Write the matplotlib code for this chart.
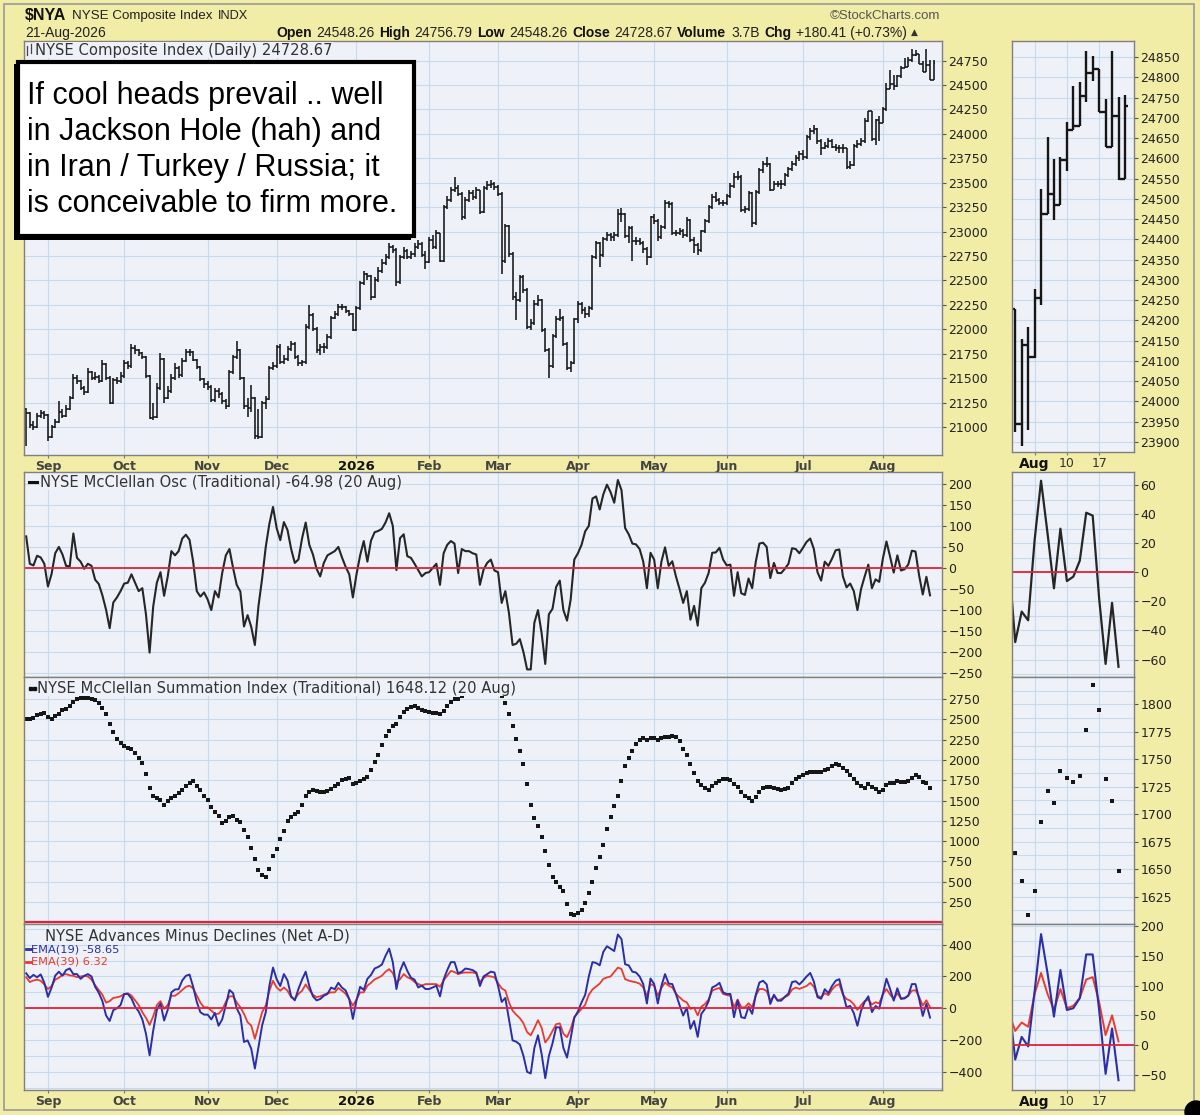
import numpy as np
import pandas as pd
import matplotlib
matplotlib.use('Agg')
import matplotlib.pyplot as plt
from matplotlib.patches import Rectangle, Ellipse
from matplotlib.lines import Line2D
from matplotlib.ticker import MultipleLocator

# ---------------------------------------------------------------
# Data ($NYA daily, 22-Aug-2025 .. 21-Aug-2026)
# NYA reports the open as the prior close (header: Open = prev close)
# ---------------------------------------------------------------
first_open = 21180

close = [
    21140, 21020, 21000, 21110, 21140, 21120,                                   # Aug 25
    20900, 21000, 21050, 21150, 21110, 21180, 21300, 21500, 21470, 21400, 21360,
    21560, 21500, 21510, 21470, 21640, 21500, 21250, 21480, 21470, 21520,        # Sep
    21650, 21620, 21810, 21790, 21760, 21720, 21520, 21090, 21100, 21400, 21700,
    21300, 21370, 21500, 21600, 21530, 21680, 21770, 21770, 21690, 21610, 21490, 21440,  # Oct
    21410, 21280, 21370, 21340, 21270, 21210, 21560, 21720, 21790, 21500, 21210,
    21190, 21300, 20910, 20900, 21250, 21290, 21600, 21620,                      # Nov
    21820, 21660, 21700, 21800, 21850, 21720, 21650, 21660, 22020, 22150, 22000,
    21790, 21820, 21820, 21920, 22120, 22160, 22230, 22230, 22190, 22160, 21990,  # Dec
    22220, 22470, 22570, 22540, 22330, 22500, 22600, 22680, 22740, 22840, 22810,
    22480, 22740, 22800, 22740, 22770, 22840, 22870, 22760, 22690,               # Jan
    22910, 22840, 22980, 22700, 23250, 23320, 23420, 23450, 23380, 23150, 23320,
    23390, 23350, 23420, 23200, 23450, 23480, 23490, 23460,                      # Feb
    23380, 22700, 23060, 22770, 22330, 22300, 22530, 22400, 22020, 22060, 22260,
    22300, 21990, 21790, 21620, 21930, 22100, 22120, 21850, 21600, 21650, 22100,  # Mar
    22260, 22200, 22160, 22220, 22740, 22880, 22760, 22920, 22960, 22940, 22960,
    23180, 23180, 22950, 23040, 22900, 22900, 22880, 22820, 22740, 23150,        # Apr
    23110, 22940, 23050, 23290, 23280, 22990, 22990, 23010, 22960, 23120, 22910,
    22860, 22810, 23010, 23110, 23250, 23350, 23320, 23290, 23290,               # May
    23360, 23470, 23560, 23560, 23220, 23230, 23390, 23090, 23400, 23630, 23690,
    23690, 23430, 23490, 23490, 23490, 23580, 23640, 23690, 23750, 23790,        # Jun
    23760, 23970, 24030, 24050, 23930, 23860, 23880, 23930, 23870, 23860, 23850,
    23850, 23660, 23680, 23880, 23900, 23930, 24130, 24229, 23945, 24140, 24110,  # Jul
    24255, 24463, 24513, 24485, 24595, 24669, 24680, 24755, 24810, 24820, 24715,
    24628, 24706, 24548.26, 24728.67,                                            # Aug
]

high = [
    21190, 21150, 21060, 21140, 21170, 21160,
    21130, 21020, 21080, 21270, 21180, 21220, 21320, 21540, 21530, 21480, 21420,
    21600, 21570, 21560, 21530, 21690, 21650, 21520, 21500, 21510, 21560,
    21690, 21680, 21850, 21840, 21800, 21770, 21730, 21530, 21250, 21450, 21760,
    21710, 21420, 21540, 21650, 21620, 21710, 21800, 21800, 21780, 21700, 21620, 21500,
    21470, 21430, 21400, 21400, 21360, 21290, 21580, 21740, 21880, 21800, 21510,
    21300, 21430, 21310, 21180, 21270, 21320, 21620, 21660,
    21840, 21850, 21740, 21830, 21880, 21870, 21740, 21690, 22050, 22250, 22170,
    22020, 21850, 21860, 21950, 22140, 22190, 22260, 22260, 22240, 22200, 22170,
    22240, 22490, 22600, 22580, 22560, 22530, 22640, 22720, 22770, 22880, 22860,
    22830, 22760, 22840, 22820, 22800, 22880, 22910, 22890, 22800,
    22940, 22960, 23020, 22990, 23270, 23360, 23460, 23560, 23480, 23400, 23350,
    23420, 23420, 23460, 23430, 23470, 23520, 23530, 23510,
    23480, 23400, 23080, 23070, 22790, 22380, 22560, 22560, 22420, 22100, 22300,
    22350, 22310, 22010, 21810, 21950, 22140, 22210, 22140, 21870, 21680, 22120,
    22290, 22280, 22230, 22240, 22760, 22900, 22890, 22940, 23000, 22980, 23000,
    23230, 23240, 23190, 23060, 23060, 22940, 22930, 22900, 22840, 23160,
    23180, 23130, 23070, 23320, 23310, 23300, 23020, 23040, 23030, 23150, 23130,
    22940, 22880, 23020, 23130, 23270, 23380, 23400, 23340, 23320,
    23380, 23500, 23600, 23620, 23580, 23260, 23410, 23400, 23420, 23650, 23720,
    23760, 23700, 23520, 23520, 23530, 23600, 23660, 23720, 23780, 23820,
    23830, 23990, 24060, 24090, 24060, 23950, 23920, 23960, 23950, 23900, 23890,
    23900, 23860, 23720, 23900, 23940, 23960, 24160, 24229, 24229, 24155, 24184,
    24278, 24525, 24653, 24599, 24603, 24690, 24780, 24788, 24866, 24854, 24821,
    24747, 24866, 24751, 24756.79,
]

low = [
    20810, 20990, 20970, 20990, 21090, 21080,
    20860, 20890, 20990, 21040, 21090, 21100, 21170, 21290, 21440, 21380, 21330,
    21350, 21480, 21480, 21450, 21460, 21480, 21240, 21240, 21440, 21450,
    21500, 21590, 21600, 21750, 21730, 21700, 21500, 21080, 21070, 21090, 21380,
    21250, 21290, 21350, 21480, 21500, 21510, 21660, 21730, 21670, 21590, 21470, 21400,
    21380, 21260, 21260, 21300, 21240, 21180, 21200, 21540, 21700, 21480, 21180,
    21100, 21150, 20880, 20880, 20890, 21180, 21280, 21580,
    21600, 21640, 21640, 21680, 21780, 21700, 21620, 21620, 21640, 22000, 21980,
    21760, 21740, 21760, 21800, 21900, 22100, 22140, 22200, 22170, 22140, 21980,
    21980, 22200, 22450, 22500, 22300, 22320, 22480, 22580, 22660, 22720, 22780,
    22440, 22460, 22720, 22720, 22720, 22740, 22820, 22740, 22620,
    22680, 22820, 22820, 22690, 22690, 23230, 23300, 23400, 23360, 23120, 23130,
    23300, 23320, 23330, 23180, 23190, 23420, 23450, 23430,
    23360, 22570, 22680, 22740, 22300, 22090, 22280, 22370, 22000, 21990, 22040,
    22240, 21970, 21770, 21500, 21600, 21910, 22080, 21830, 21580, 21560, 21640,
    22060, 22160, 22120, 22130, 22200, 22720, 22640, 22740, 22900, 22900, 22900,
    22940, 23100, 22930, 22880, 22700, 22860, 22860, 22780, 22660, 22730,
    23080, 22900, 22920, 23030, 23240, 22960, 22950, 22960, 22930, 22940, 22890,
    22780, 22760, 22790, 22990, 23090, 23230, 23300, 23270, 23260,
    23270, 23340, 23450, 23530, 23200, 23190, 23210, 23050, 23070, 23380, 23600,
    23660, 23410, 23420, 23460, 23440, 23470, 23560, 23620, 23670, 23720,
    23730, 23740, 23940, 24000, 23900, 23780, 23840, 23860, 23850, 23820, 23800,
    23800, 23640, 23640, 23670, 23860, 23880, 23910, 24120, 23925, 23890, 23929,
    24106, 24237, 24463, 24447, 24484, 24570, 24669, 24680, 24739, 24792, 24714,
    24628, 24628, 24546, 24548.26,
]

# indicators end on 20 Aug (one bar shorter than price)
mcclellan_osc = [
    75, 10, 6, 29, 25, 10,
    -44, -14, 35, 50, 32, 5, 4, 82, 24, 15, -2, 10, 5, -28, -38, -65, -99, -143, -82, -70, -55,
    -37, -35, -15, -35, -55, -48, -110, -201, -91, -35, -10, -66, -20, 40, 30, 40, 70, 79, 67,
    15, -55, -68, -58,
    -75, -100, -55, -70, -12, 30, 45, 0, -40, -56, -139, -112, -140, -183, -90, -25, 50, 105, 145,
    95, 66, 109, 90, 45, 12, 20, 70, 108, 55, 32, -2, -20, 12, 30, 35, 40, 50, 25, 3, -15, -70,
    -15, 30, 64, 15, 65, 85, 88, 93, 108, 130, 100, -5, 71, 80, 28, 24, 10, -5, -20, -12,
    -10, 0, 10, -40, 35, 55, 64, 58, -12, 45, 40, 40, 35, 32, -40, -4, 12, 20, -6,
    -10, -83, -55, -107, -183, -180, -169, -200, -241, -241, -130, -100, -155, -228, -110, -97,
    -45, -30, -100, -125, -75, 20,
    35, 55, 87, 100, 165, 170, 139, 175, 198, 180, 155, 209, 185, 95, 80, 58, 56, 45, 15, -48, 36,
    20, -48, 15, 49, 5, 16, -20, -50, -83, -55, -123, -90, -137, -48, -35, -12, 36, 37, 48, 20,
    6, 8, -66, -10, -60, -64, -25, -48, 15, 58, 60, 50, -24, 12, -12, -12, -2, 10, 47, 45, 35,
    48, 62, 70, 45, -10, -30, 15, 5, 22, 42, 44, -20, -46, -37, -55, -100, -50, -20, 8, -48, -27, -33,
    22, 63, 27, -11, 30, -6, -3, 8, 41, 39, -18, -63, -21, -64.98,
]

summation = [
    2500, 2510, 2520, 2550, 2570, 2583,
    2525, 2510, 2545, 2570, 2616, 2625, 2660, 2712, 2745, 2760, 2768, 2765, 2755, 2735, 2700,
    2640, 2570, 2438, 2345, 2262, 2205,
    2175, 2150, 2130, 2087, 2020, 1960, 1830, 1650, 1560, 1530, 1510, 1440, 1490, 1530, 1560,
    1595, 1630, 1680, 1715, 1736, 1680, 1625, 1560,
    1510, 1420, 1360, 1310, 1222, 1250, 1300, 1315, 1261, 1230, 1140, 1050, 920, 780, 640,
    580, 560, 660, 815,
    900, 1020, 1130, 1250, 1300, 1328, 1360, 1450, 1560, 1605, 1624, 1618, 1600, 1600, 1612,
    1640, 1675, 1700, 1755, 1770, 1780, 1700,
    1712, 1740, 1765, 1795, 1880, 1980, 2060, 2180, 2290, 2360, 2417, 2440, 2530, 2590, 2632,
    2650, 2660, 2645, 2620, 2605,
    2591, 2583, 2575, 2560, 2600, 2660, 2710, 2745, 2745, 2790, 2825, 2860, 2890, 2915, 2880,
    2875, 2885, 2900, 2890,
    2840, 2790, 2700, 2570, 2420, 2260, 2110, 1950, 1700, 1440, 1290, 1180, 1050, 880, 700,
    560, 500, 440, 380, 220, 100, 84,
    110, 150, 240, 360, 500, 662, 807, 950, 1150, 1300, 1430, 1560, 1740, 1930, 2025, 2110,
    2200, 2245, 2265, 2240, 2265,
    2273, 2250, 2265, 2280, 2280, 2294, 2285, 2230, 2140, 2060, 1950, 1840, 1740, 1690, 1650,
    1630, 1674, 1710, 1745, 1760,
    1765, 1755, 1700, 1670, 1600, 1558, 1535, 1500, 1540, 1600, 1653, 1670, 1665, 1650, 1641,
    1635, 1637, 1660, 1715, 1765, 1790,
    1815, 1845, 1855, 1850, 1848, 1855, 1870, 1890, 1930, 1955, 1940, 1900, 1860, 1810, 1770,
    1720, 1680, 1660, 1700, 1665, 1639, 1608,
    1630, 1693, 1721, 1710, 1739, 1733, 1729, 1735, 1777, 1818, 1795, 1732, 1712, 1648.12,
]

ema19 = [
    220, 190, 210, 195, 213, 160,
    72, 130, 205, 230, 205, 240, 250, 215, 215, 185, 204, 215, 200, 135, 98, 45, -45, -80, -12, 0, 20,
    90, 90, 62, 10, -20, -70, -160, -296, -140, -10, 30, -77, -10, 100, 118, 120, 175, 204, 212,
    135, 40, -25, -40,
    -40, -70, -30, -110, -70, 20, 115, 95, 0, -46, -212, -202, -254, -379, -242, -108, -25, 142, 256,
    183, 140, 215, 175, 75, 50, 121, 180, 230, 140, 75, 50, 58, 79, 90, 130, 120, 160, 130, 112, 58, -67,
    50, 135, 115, 185, 210, 250, 260, 275, 330, 375, 290, 121, 235, 290, 235, 192, 180, 131, 142, 121,
    121, 131, 142, 75, 180, 240, 290, 290, 220, 230, 250, 246, 240, 225, 140, 200, 215, 230, 225,
    140, 40, 65, -67, -202, -210, -228, -300, -400, -410, -250, -170, -288, -440, -300, -220,
    -120, -120, -250, -310, -190, -60,
    -20, 37, 85, 200, 290, 285, 270, 355, 390, 375, 360, 464, 435, 277, 270, 230, 225, 200, 152, 30, 187,
    152, 30, 140, 215, 155, 152, 90, 20, -46, 5, -129, -80, -180, -35, -4, 45, 131, 142, 160, 100,
    90, 90, -56, 50, -56, -62, 10, -35, 85, 162, 173, 150, 27, 85, 48, 48, 72, 92, 165, 170, 150,
    173, 200, 222, 168, 70, 60, 120, 95, 140, 173, 183, 95, 6, 15, -30, -110, -15, 40, 75, -24, 14, -2,
    90, 186, 121, 48, 126, 59, 62, 79, 152, 152, 59, -48, 28, -58.65,
]

ema39 = [
    195, 165, 175, 180, 173, 150,
    121, 140, 180, 192, 210, 215, 207, 204, 196, 200, 204, 200, 180, 145, 115, 85, 35, 45, 65, 69, 75,
    90, 95, 80, 50, 20, -25, -60, -105, -50, 20, 45, -4, 20, 79, 79, 95, 115, 135, 142, 125, 80, 35, 6,
    6, -15, -35, -35, -10, 40, 75, 75, 37, 6, -35, -88, -108, -192, -108, -25, 17, 110, 173,
    131, 110, 131, 110, 69, 58, 90, 110, 150, 115, 85, 70, 75, 85, 95, 100, 100, 128, 110, 92, 58, 17,
    55, 100, 100, 142, 160, 182, 192, 205, 230, 246, 222, 162, 183, 215, 195, 185, 165, 153, 143, 152,
    152, 152, 152, 135, 175, 205, 235, 228, 215, 222, 225, 225, 225, 220, 165, 190, 204, 200, 195,
    158, 125, 112, 37, -15, -40, -62, -95, -150, -170, -125, -75, -122, -215, -185, -142,
    -100, -95, -160, -182, -130, -55,
    -30, -4, 22, 85, 118, 137, 155, 185, 194, 200, 228, 256, 247, 183, 174, 168, 163, 155, 131, 77, 152,
    142, 79, 128, 162, 142, 131, 92, 69, 48, 37, -4, 4, -45, 10, 27, 55, 110, 121, 128, 90,
    83, 79, 6, 55, 6, 6, 32, 6, 80, 121, 121, 108, 48, 79, 50, 58, 70, 82, 118, 130, 122,
    131, 140, 160, 135, 80, 68, 95, 82, 118, 142, 152, 85, 58, 48, 25, -10, 20, 45, 55, 24, 38, 31,
    86, 121, 86, 59, 94, 62, 66, 79, 110, 114, 72, 17, 50, 6.32,
]

holidays = ['2025-09-01', '2025-11-27', '2025-12-25', '2026-01-01', '2026-01-19',
            '2026-02-16', '2026-04-03', '2026-05-25', '2026-06-19', '2026-07-03']

# ---------------------------------------------------------------
dates = pd.bdate_range('2025-08-22', '2026-08-21')
dates = dates[~dates.isin(pd.to_datetime(holidays))]
n = len(dates)
close = np.array(close, float); high = np.array(high, float); low = np.array(low, float)
osc = np.array(mcclellan_osc, float); summ = np.array(summation, float)
e19 = np.array(ema19, float); e39 = np.array(ema39, float)
assert len(close) == len(high) == len(low) == n, (len(close), len(high), len(low), n)
assert len(osc) == len(summ) == len(e19) == len(e39) == n - 1, (len(osc), len(summ), len(e19), len(e39))
opn = np.r_[first_open, close[:-1]]

x = np.arange(n)
xi = np.arange(n - 1)
mon = dates.month.values
ms = [i for i in range(1, n) if mon[i] != mon[i - 1]]
mlab = ['2026' if dates[i].month == 1 else dates[i].strftime('%b') for i in ms]

BG = '#f1eca6'
PANEL = '#eef1f7'
GRID = '#c6dbee'
ZERO = '#e0213c'
INK = '#161616'
BLUE = '#2b2ea6'
RED = '#ea3a2e'

W, H = 1200, 1115
fig = plt.figure(figsize=(W / 100, H / 100), dpi=100, facecolor=BG)
plt.rcParams['font.family'] = ['DejaVu Sans']


def box(x0, y0, x1, y1):
    return fig.add_axes([x0 / W, 1 - y1 / H, (x1 - x0) / W, (y1 - y0) / H], facecolor=PANEL)


def P(xp, yp):
    return xp / W, 1 - yp / H


def style(ax, ticks, minor=None):
    ax.yaxis.tick_right()
    ax.set_yticks(ticks)
    if minor:
        ax.yaxis.set_minor_locator(MultipleLocator(minor))
        ax.grid(True, which='minor', axis='y', color=GRID, lw=0.8)
    ax.tick_params(axis='y', which='major', length=3, width=0.8, color='#555',
                   labelsize=9, labelcolor='#222', pad=1.5)
    ax.tick_params(axis='y', which='minor', length=0)
    ax.tick_params(axis='x', length=2, color='#777', labelsize=9, pad=1.5)
    ax.grid(True, which='major', color=GRID, lw=0.8)
    ax.set_axisbelow(True)
    for s in ax.spines.values():
        s.set_color('#808080'); s.set_linewidth(1.0)


def ohlc(ax, xs, o, h, l, c, tick, lw):
    lo = np.minimum(l, np.minimum(o, c)); hi = np.maximum(h, np.maximum(o, c))
    ax.vlines(xs, lo, hi, color=INK, lw=lw)
    ax.hlines(o, xs - tick, xs, color=INK, lw=lw)
    ax.hlines(c, xs, xs + tick, color=INK, lw=lw)


def month_axis(ax, labels):
    ax.set_xticks(ms)
    if labels:
        ax.set_xticklabels(mlab)
        for t in ax.get_xticklabels():
            bold26 = t.get_text() == '2026'
            t.set_fontweight('bold'); t.set_color('#111' if bold26 else '#444')
            t.set_fontsize(9.5 if bold26 else 9)
    else:
        ax.set_xticklabels([])
    ax.set_xlim(-0.6, 252.3)


# main panels
XL, XR = 24, 942
a1 = box(XL, 41, XR, 455)
a2 = box(XL, 472, XR, 677)
a3 = box(XL, 677, XR, 924)
a4 = box(XL, 924, XR, 1090)

ohlc(a1, x, opn, high, low, close, 0.5, 1.15)
a1.set_ylim(20713, 24950)
style(a1, np.arange(21000, 24751, 250))
month_axis(a1, True)

a2.plot(xi, osc, color='#262626', lw=1.5)
a2.axhline(0, color=ZERO, lw=1.3)
a2.set_ylim(-259, 228)
style(a2, np.arange(-250, 201, 50))
month_axis(a2, False)

a3.plot(xi, summ, 's', color=INK, ms=2.7, mew=0)
a3.axhline(0, color=ZERO, lw=1.6)
a3.set_ylim(-22, 3022)
style(a3, np.arange(250, 2751, 250))
month_axis(a3, False)

a4.plot(xi, e39, color=RED, lw=1.3)
a4.plot(xi, e19, color=BLUE, lw=1.4)
a4.axhline(0, color=ZERO, lw=1.3)
a4.set_ylim(-514, 530)
style(a4, np.arange(-400, 401, 200), minor=100)
month_axis(a4, True)

# right-hand zoom panels: last 18 bars (29-Jul .. 21-Aug)
SL, SR = 1012, 1134
k = 18
sd = dates[n - k:]
sx = np.arange(k)
sticks = [i for i, d in enumerate(sd) if d.month == 8 and d.day in (3, 10, 17)]
slabs = ['Aug' if sd[i].day == 3 else str(sd[i].day) for i in sticks]


def small_axis(ax, labels):
    ax.set_xticks(sticks)
    if labels:
        ax.set_xticklabels(slabs)
        for t in ax.get_xticklabels():
            if t.get_text() == 'Aug':
                t.set_fontweight('bold'); t.set_color('#111'); t.set_fontsize(10)
            else:
                t.set_color('#333'); t.set_fontsize(9)
    else:
        ax.set_xticklabels([])
    ax.set_xlim(-0.5, 18.4)


b1 = box(SL, 41, SR, 452)
b2 = box(SL, 472, SR, 677)
b3 = box(SL, 677, SR, 924)
b4 = box(SL, 924, SR, 1090)

ohlc(b1, sx, opn[n - k:], high[n - k:], low[n - k:], close[n - k:], 0.5, 1.7)
b1.set_ylim(23875, 24890)
style(b1, np.arange(23900, 24851, 50))
small_axis(b1, True)

ix = np.arange(-1, k - 1)          # indicator days 28-Jul .. 20-Aug
b2.plot(ix, osc[-k:], color='#262626', lw=1.6)
b2.axhline(0, color=ZERO, lw=1.3)
b2.set_ylim(-72, 69)
style(b2, np.arange(-60, 61, 20), minor=10)
small_axis(b2, False)

b3.plot(ix[1:], summ[-(k - 1):], 's', color=INK, ms=3.4, mew=0)
b3.set_ylim(1600, 1825)
style(b3, np.arange(1625, 1801, 25), minor=12.5)
small_axis(b3, False)

b4.plot(ix, e39[-k:], color=RED, lw=1.4)
b4.plot(ix, e19[-k:], color=BLUE, lw=1.5)
b4.axhline(0, color=ZERO, lw=1.3)
b4.set_ylim(-75, 203)
style(b4, np.arange(-50, 201, 50), minor=25)
small_axis(b4, True)

# ---------------------------------------------------------------
# header
HF = 'Liberation Sans'
fig.text(*P(25, 16), '$NYA', fontsize=11.5, fontweight='bold', family=HF, va='center', color='#111')
fig.text(*P(72, 16), 'NYSE Composite Index', fontsize=9.6, family=HF, va='center', color='#222')
fig.text(*P(218, 16), 'INDX', fontsize=9.2, family=HF, va='center', color='#222')
fig.text(*P(25, 33), '21-Aug-2026', fontsize=10, family=HF, va='center', color='#222')
fig.text(*P(940, 16), '\u00a9StockCharts.com', fontsize=9.5, family=HF, va='center', ha='right', color='#555')

renderer = fig.canvas.get_renderer()
pieces = [('Open', 'bold'), ('24548.26', 'normal'), ('High', 'bold'), ('24756.79', 'normal'),
          ('Low', 'bold'), ('24548.26', 'normal'), ('Close', 'bold'), ('24728.67', 'normal'),
          ('Volume', 'bold'), ('3.7B', 'normal'), ('Chg', 'bold'), ('+180.41 (+0.73%)', 'normal')]
xc = 276
gap = 4.6
for s, wgt in pieces:
    t = fig.text(*P(xc, 33), s, fontsize=10, fontweight=wgt, family=HF, va='center', color='#111' if wgt == 'bold' else '#222')
    xc += t.get_window_extent(renderer=renderer).width + gap
fig.text(*P(xc, 32), '\u25b2', fontsize=6.5, va='center', color='#333')

# panel legends
LEG = dict(fontsize=10.6, color='#333', va='center', zorder=6,
           bbox=dict(facecolor=PANEL, edgecolor='none', pad=0.2))
for xs_, y0_, y1_ in [(27, 46, 55), (31, 44, 53)]:
    fig.add_artist(Line2D([P(xs_, 0)[0]] * 2, [P(0, y0_)[1], P(0, y1_)[1]], color='#444', lw=0.9, transform=fig.transFigure, zorder=7))
fig.text(*P(35, 50), 'NYSE Composite Index (Daily) 24728.67', **LEG)

fig.add_artist(Line2D([P(29, 0)[0], P(37, 0)[0]], [P(0, 482)[1]] * 2, color='#111', lw=2.2, transform=fig.transFigure, zorder=7))
fig.text(*P(40, 482), 'NYSE McClellan Osc (Traditional) -64.98 (20 Aug)', **LEG)

for xs_ in (29, 33):
    fig.add_artist(Rectangle(P(xs_, 690), 2.6 / W, 2.6 / H, color='#111', transform=fig.transFigure, zorder=7))
fig.text(*P(37, 688), 'NYSE McClellan Summation Index (Traditional) 1648.12 (20 Aug)', **LEG)

fig.text(*P(45, 936), 'NYSE Advances Minus Declines (Net A-D)', **LEG)
for yy, col, s in [(949, BLUE, 'EMA(19) -58.65'), (962, RED, 'EMA(39) 6.32')]:
    fig.add_artist(Line2D([P(26, 0)[0], P(31, 0)[0]], [P(0, yy)[1]] * 2, color=col, lw=2.0, transform=fig.transFigure, zorder=7))
    fig.text(*P(31, yy), s, fontsize=8.2, color=col, va='center', zorder=6)

# annotation box
fig.add_artist(Rectangle(P(14, 240), 397 / W, 176 / H, facecolor='black', edgecolor='none',
                         transform=fig.transFigure, zorder=8))
fig.add_artist(Rectangle(P(18, 236), 396 / W, 174 / H, facecolor='white', edgecolor='black', lw=3,
                         transform=fig.transFigure, zorder=9))
note = ['If cool heads prevail .. well', 'in Jackson Hole (hah) and',
        'in Iran / Turkey / Russia; it', 'is conceivable to firm more.']
for i, line in enumerate(note):
    fig.text(*P(27, 96 + 36 * i), line, fontsize=22, family=HF, va='center', color='black', zorder=10)

# outer frame and corner blob of the screenshot
fig.add_artist(Rectangle(P(4, 1110), 1190 / W, 1106 / H, fill=False, edgecolor='#9a9a9a', lw=1.2,
                         transform=fig.transFigure, zorder=1))
fig.add_artist(Ellipse(P(1196, 1112), 22 / W, 22 / H, color='black', transform=fig.transFigure, zorder=11))

fig.savefig('out.png', dpi=100, facecolor=BG)
